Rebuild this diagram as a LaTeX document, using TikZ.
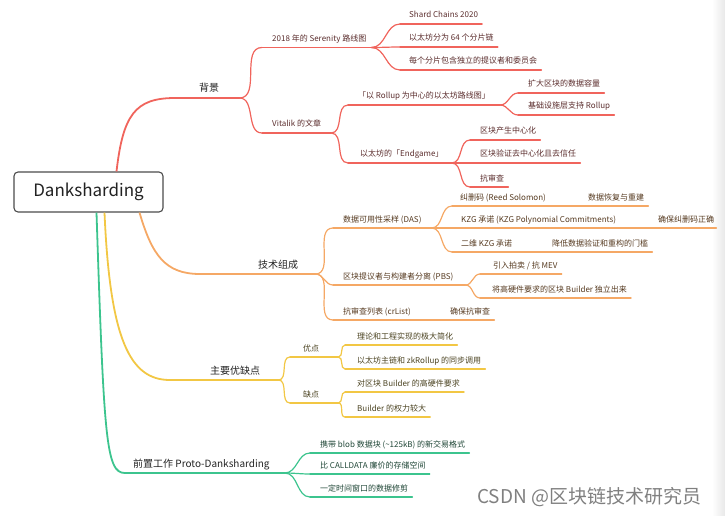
\documentclass[tikz,border=0pt]{standalone}
\usepackage{fontspec}
\setmainfont{Noto Sans CJK SC}
\definecolor{cR}{HTML}{F0645C}
\definecolor{cO}{HTML}{F5A865}
\definecolor{cY}{HTML}{F2C744}
\definecolor{cG}{HTML}{3CC48E}
\definecolor{txtR}{HTML}{5A2C2C}
\definecolor{txtO}{HTML}{55391F}
\definecolor{txtY}{HTML}{4A4220}
\definecolor{txtG}{HTML}{1F4636}
\definecolor{txtK}{HTML}{222222}
\tikzset{
 fA/.style={font=\fontsize{10}{12}\selectfont, text=txtK},
 fB/.style={font=\fontsize{8}{9.6}\selectfont},
 lA/.style={line width=1.8pt, line cap=round},
 lB/.style={line width=1.2pt, line cap=round},
 br/.style={out=0,in=180},
}
\newcommand\tp[9]{%
 \node[text=txt#2, #3, anchor=base west, inner sep=0pt] (#1) at (#5,#6) {#9};
 \coordinate (#1-l) at ([shift={(-#7pt,-6pt)}]#1.base west);
 \coordinate (#1-r) at ([shift={(#8pt,-6pt)}]#1.base east);
 \draw[#4, draw=c#2] (#1-l) -- (#1-r);
}
\begin{document}
\begin{tikzpicture}[x=1pt,y=-1pt]
\useasboundingbox (0,0) rectangle (725,516);
\shade[left color=white, right color=gray!18] (712,0) rectangle (725,516);

% root
\node[draw=black!70, line width=1.1pt, rounded corners=4pt, fill=white,
      minimum width=149pt, minimum height=40pt, text=txtK,
      font=\fontsize{17}{20}\selectfont] (root) at (88.5,192) {Danksharding};

% level 1
\tp{b1}{R}{fA}{lA}{199}{92}{24}{20}{背景}
\tp{b2}{O}{fA}{lA}{258}{268}{58}{17}{技术组成}
\tp{b3}{Y}{fA}{lA}{210}{374}{40}{18}{主要优缺点}
\tp{b4}{G}{fA}{lA}{133}{467}{8}{15}{前置工作 Proto-Danksharding}

\draw[lA, line cap=butt, cR] ([xshift=28pt]root.north) .. controls (123,115) and (135,98) .. (b1-l);
\draw[lA, line cap=butt, cO] ([xshift=51pt]root.south) .. controls (152,255) and (165,274) .. (b2-l);
\draw[lA, line cap=butt, cY] ([xshift=16pt]root.south) .. controls (110,340) and (130,380) .. (b3-l);
\draw[lA, line cap=butt, cG] ([xshift=8pt]root.south) .. controls (104,440) and (106,473) .. (b4-l);

% red branch
\tp{r1}{R}{fB}{lB}{272}{41.5}{10}{5}{2018 年的 Serenity 路线图}
\tp{r11}{R}{fB}{lB}{409}{18}{9}{4}{Shard Chains 2020}
\tp{r12}{R}{fB}{lB}{409}{41}{9}{4}{以太坊分为 64 个分片链}
\tp{r13}{R}{fB}{lB}{409}{64}{9}{4}{每个分片包含独立的提议者和委员会}
\tp{r2}{R}{fB}{lB}{272}{127}{10}{10}{Vitalik 的文章}
\tp{r21}{R}{fB}{lB}{358}{99}{10}{10}{「以 Rollup 为中心的以太坊路线图」}
\tp{r211}{R}{fB}{lB}{528}{87}{10}{4}{扩大区块的数据容量}
\tp{r212}{R}{fB}{lB}{528}{109}{10}{4}{基础设施层支持 Rollup}
\tp{r22}{R}{fB}{lB}{360}{157}{12}{8}{以太坊的「Endgame」}
\tp{r221}{R}{fB}{lB}{480}{134}{10}{4}{区块产生中心化}
\tp{r222}{R}{fB}{lB}{480}{157}{10}{4}{区块验证去中心化且去信任}
\tp{r223}{R}{fB}{lB}{480}{181}{10}{4}{抗审查}

\begin{scope}[lB, cR]
\draw (b1-r) to[br] (r1-l);
\draw (b1-r) to[br] (r2-l);
\draw (r1-r) to[br] (r11-l);
\draw (r1-r) to[br] (r12-l);
\draw (r1-r) to[br] (r13-l);
\draw (r2-r) to[br] (r21-l);
\draw (r2-r) to[br] (r22-l);
\draw (r21-r) to[br] (r211-l);
\draw (r21-r) to[br] (r212-l);
\draw (r22-r) to[br] (r221-l);
\draw (r22-r) to[br] (r222-l);
\draw (r22-r) to[br] (r223-l);
\end{scope}

% orange branch
\tp{o1}{O}{fB}{lB}{343}{222}{10}{10}{数据可用性采样 (DAS)}
\tp{o11}{O}{fB}{lB}{460}{200}{8}{4}{纠删码 (Reed Solomon)}
\tp{o111}{O}{fB}{lB}{588}{200}{8}{4}{数据恢复与重建}
\tp{o12}{O}{fB}{lB}{461}{222}{9}{4}{KZG 承诺 (KZG Polynomial Commitments)}
\tp{o121}{O}{fB}{lB}{658}{222}{8}{2}{确保纠删码正确}
\tp{o13}{O}{fB}{lB}{461}{246}{9}{4}{二维 KZG 承诺}
\tp{o131}{O}{fB}{lB}{552}{246}{8}{4}{降低数据验证和重构的门槛}
\tp{o2}{O}{fB}{lB}{343}{279}{10}{12}{区块提议者与构建者分离 (PBS)}
\tp{o21}{O}{fB}{lB}{493}{268}{13}{4}{引入拍卖 / 抗 MEV}
\tp{o22}{O}{fB}{lB}{492}{292}{12}{4}{将高硬件要求的区块 Builder 独立出来}
\tp{o3}{O}{fB}{lB}{343}{314}{10}{4}{抗审查列表 (crList)}
\tp{o31}{O}{fB}{lB}{450}{314}{8}{4}{确保抗审查}

\begin{scope}[lB, cO]
\draw (b2-r) to[br] (o1-l);
\draw (b2-r) to[br] (o2-l);
\draw (b2-r) to[br] (o3-l);
\draw (o1-r) to[br] (o11-l);
\draw (o1-r) to[br] (o12-l);
\draw (o1-r) to[br] (o13-l);
\draw (o11-r) -- (o111-l);
\draw (o12-r) -- (o121-l);
\draw (o13-r) -- (o131-l);
\draw (o2-r) to[br] (o21-l);
\draw (o2-r) to[br] (o22-l);
\draw (o3-r) -- (o31-l);
\end{scope}

% yellow branch
\tp{y1}{Y}{fB}{lB}{303}{351}{13}{19}{优点}
\tp{y11}{Y}{fB}{lB}{357}{339}{12}{4}{理论和工程实现的极大简化}
\tp{y12}{Y}{fB}{lB}{357}{363}{12}{4}{以太坊主链和 zkRollup 的同步调用}
\tp{y2}{Y}{fB}{lB}{303}{397}{13}{19}{缺点}
\tp{y21}{Y}{fB}{lB}{357}{386}{12}{4}{对区块 Builder 的高硬件要求}
\tp{y22}{Y}{fB}{lB}{357}{411}{12}{4}{Builder 的权力较大}

\begin{scope}[lB, cY]
\draw (b3-r) to[br] (y1-l);
\draw (b3-r) to[br] (y2-l);
\draw (y1-r) to[br] (y11-l);
\draw (y1-r) to[br] (y12-l);
\draw (y2-r) to[br] (y21-l);
\draw (y2-r) to[br] (y22-l);
\end{scope}

% green branch
\tp{g1}{G}{fB}{lB}{320}{447}{10}{4}{携带 blob 数据块 (\textasciitilde125kB) 的新交易格式}
\tp{g2}{G}{fB}{lB}{320}{468}{10}{4}{比 CALLDATA 廉价的存储空间}
\tp{g3}{G}{fB}{lB}{320}{491}{10}{4}{一定时间窗口的数据修剪}

\begin{scope}[lB, cG]
\draw (b4-r) to[br] (g1-l);
\draw (b4-r) to[br] (g2-l);
\draw (b4-r) to[br] (g3-l);
\end{scope}

% watermark
\node[anchor=west, text=black!50, font=\fontsize{19}{22}\selectfont, inner sep=0pt] (wm) at (477,497) {CSDN @区块链技术研究员};
\end{tikzpicture}
\end{document}
